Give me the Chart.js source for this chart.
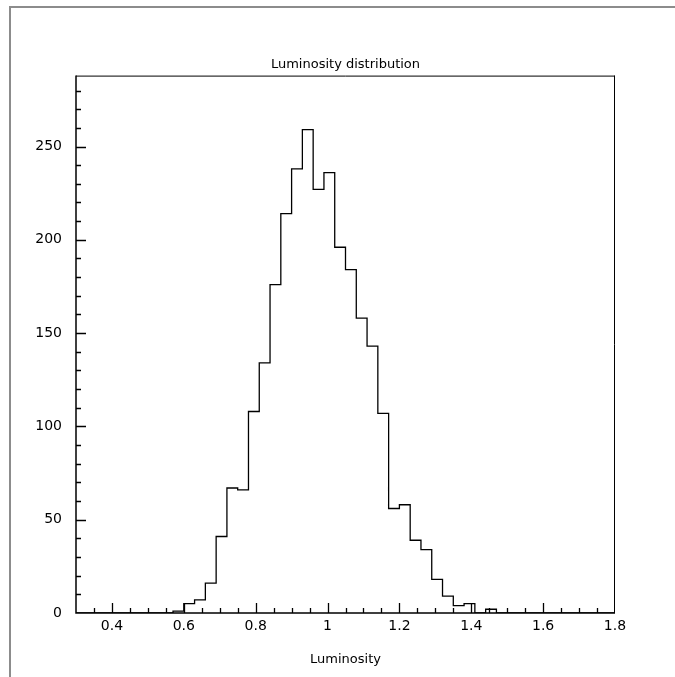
<!DOCTYPE html>
<html>
<head>
<meta charset="utf-8">
<title>Luminosity distribution</title>
<script src="https://cdn.jsdelivr.net/npm/chart.js@4.4.0/dist/chart.umd.min.js"></script>
<style>
  html, body { margin: 0; padding: 0; background: #fff; }
  #wrap { position: relative; width: 675px; height: 677px; overflow: hidden; }
  #frame { position: absolute; left: 9px; top: 6px; right: -4px; bottom: -4px;
           border-top: 2px solid #8c8c8c; border-left: 2px solid #8c8c8c; pointer-events: none; }
  canvas { position: absolute; left: 0; top: 0; }
</style>
</head>
<body>
<div id="wrap">
  <canvas id="lumi" width="675" height="677"></canvas>
  <div id="frame"></div>
</div>
<script>
// ---------- data (50 bins of 0.03 from 0.3 to 1.8) ----------
const binLow = 0.3;
const binWidth = 0.03;
const counts = [
    0, 0, 0, 0, 0, 0, 0, 0, 0, 1,
    5, 7, 16, 41, 67, 66, 108, 134, 176, 214,
    238, 259, 227, 236, 196, 184, 158, 143, 107, 56,
    58, 39, 34, 18, 9, 4, 5, 0, 2, 0,
    0, 0, 0, 0, 0, 0, 0, 0, 0, 0
];
const xTickValues = [0.4, 0.6, 0.8, 1.0, 1.2, 1.4, 1.6, 1.8];
const xTickLabels = ['0.4', '0.6', '0.8', '1', '1.2', '1.4', '1.6', '1.8'];
const yTickValues = [0, 50, 100, 150, 200, 250];
const yTickLabels = ['0', '50', '100', '150', '200', '250'];
const xMin = 0.3;
const xMax = 1.8;
const yMax = 288;

// step points: left edge of each bin + closing point at the upper edge
const histPoints = counts.map((c, i) => ({ x: binLow + i * binWidth, y: c }));
histPoints.push({ x: binLow + counts.length * binWidth, y: counts[counts.length - 1] });

const FONT = 'DejaVu Sans';

// frame + inward tick marks, like the PAW style
const frameTicks = {
    id: 'frameTicks',
    afterDatasetsDraw(chart) {
        const { ctx, chartArea: a, scales: { x, y } } = chart;
        ctx.save();
        ctx.strokeStyle = '#000';

        ctx.lineWidth = 1;
        ctx.beginPath();
        ctx.moveTo(a.left, a.top + 0.5);
        ctx.lineTo(a.right, a.top + 0.5);
        ctx.moveTo(a.right - 0.5, a.top);
        ctx.lineTo(a.right - 0.5, a.bottom);
        ctx.stroke();

        ctx.lineWidth = 1.5;
        ctx.beginPath();
        ctx.moveTo(a.left, a.top);
        ctx.lineTo(a.left, a.bottom);
        ctx.lineTo(a.right, a.bottom);
        ctx.stroke();

        ctx.lineWidth = 1.3;
        ctx.beginPath();
        for (let k = 1; k < 30; k++) {
            const v = xMin + k * 0.05;
            const px = Math.round(x.getPixelForValue(v)) + 0.5;
            const major = xTickValues.some(t => Math.abs(t - v) < 1e-6);
            ctx.moveTo(px, a.bottom);
            ctx.lineTo(px, a.bottom - (major ? 10 : 5));
        }
        for (let v = 10; v < yMax; v += 10) {
            const py = Math.round(y.getPixelForValue(v)) + 0.5;
            const major = yTickValues.includes(v);
            ctx.moveTo(a.left, py);
            ctx.lineTo(a.left + (major ? 10 : 5), py);
        }
        ctx.stroke();
        ctx.restore();
    }
};

const ctx = document.getElementById('lumi').getContext('2d');
const lumiChart = new Chart(ctx, {
    type: 'line',
    data: {
        datasets: [{
            label: 'Luminosity',
            data: histPoints,
            stepped: 'before',
            borderColor: '#000',
            borderWidth: 1.3,
            pointRadius: 0,
            fill: false
        }]
    },
    options: {
        responsive: false,
        animation: false,
        layout: { padding: { left: 0, right: 60, top: 0, bottom: 0 } },
        plugins: {
            legend: { display: false },
            tooltip: { enabled: false },
            title: {
                display: true,
                text: 'Luminosity distribution',
                color: '#000',
                fullSize: false,
                font: { family: FONT, size: 13, weight: 'normal' },
                padding: { top: 57, bottom: 3 }
            }
        },
        scales: {
            x: {
                type: 'linear',
                min: xMin,
                max: xMax,
                afterBuildTicks: (scale) => { scale.ticks = xTickValues.map(v => ({ value: v })); },
                afterFit: (scale) => { scale.height = 64; },
                grid: { drawOnChartArea: false, drawTicks: false },
                border: { display: false },
                ticks: {
                    color: '#000',
                    padding: 5,
                    maxRotation: 0,
                    font: { family: FONT, size: 14 },
                    callback: (val, i) => xTickLabels[i]
                },
                title: {
                    display: true,
                    text: 'Luminosity',
                    color: '#000',
                    font: { family: FONT, size: 13 },
                    padding: { top: 0, bottom: 10 }
                }
            },
            y: {
                min: 0,
                max: yMax,
                afterBuildTicks: (scale) => { scale.ticks = yTickValues.map(v => ({ value: v })); },
                afterFit: (scale) => { scale.width = 76; },
                grid: { drawOnChartArea: false, drawTicks: false },
                border: { display: false },
                ticks: {
                    color: '#000',
                    padding: 14,
                    font: { family: FONT, size: 14 },
                    callback: (val, i) => yTickLabels[i]
                }
            }
        }
    },
    plugins: [frameTicks]
});
</script>
</body>
</html>
